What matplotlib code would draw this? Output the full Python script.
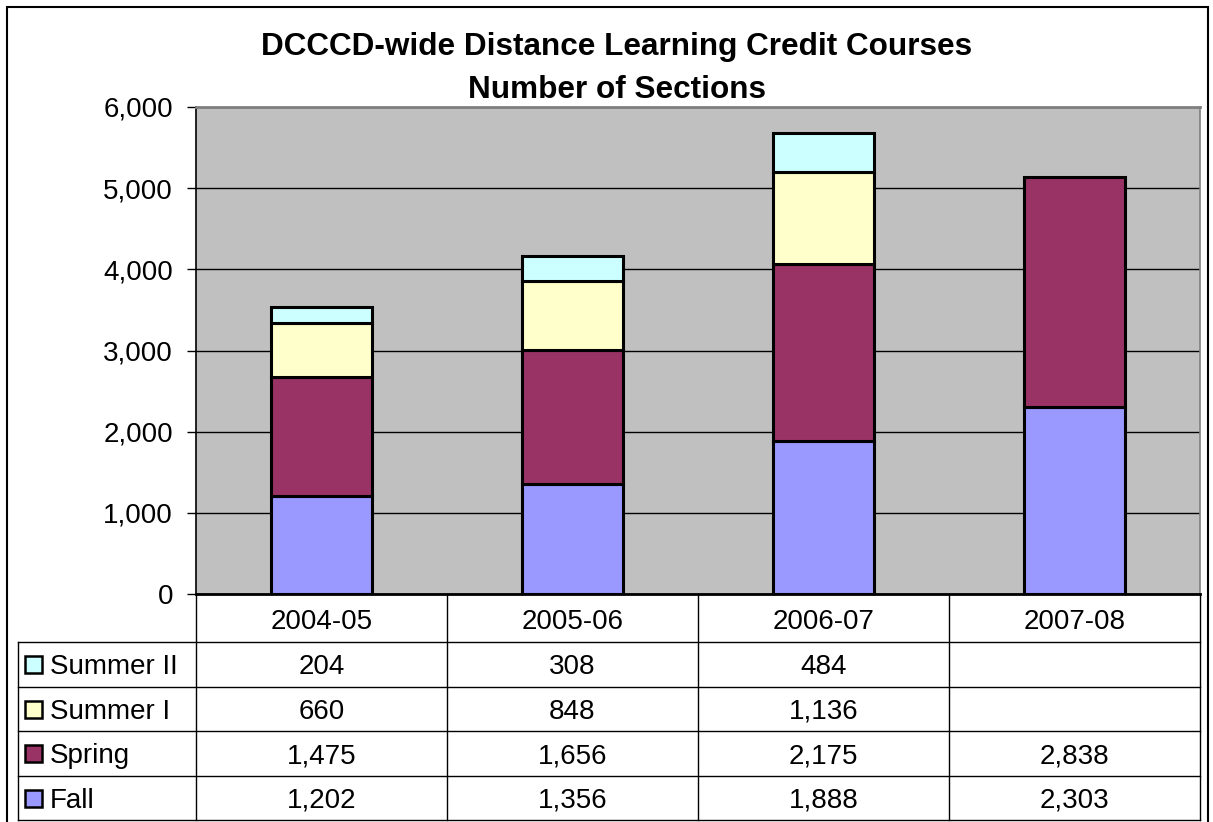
import numpy as np
import matplotlib
matplotlib.use("Agg")
import matplotlib.pyplot as plt
from matplotlib.patches import Rectangle
from matplotlib.lines import Line2D
from matplotlib.ticker import FuncFormatter

plt.rcParams['font.family'] = ['Liberation Sans', 'DejaVu Sans']

years = ['2004-05', '2005-06', '2006-07', '2007-08']
fall = [1202, 1356, 1888, 2303]
spring = [1475, 1656, 2175, 2838]
summer1 = [660, 848, 1136, 0]
summer2 = [204, 308, 484, 0]

series = [('Fall', fall, '#9999FF'),
          ('Spring', spring, '#993366'),
          ('Summer I', summer1, '#FFFFCC'),
          ('Summer II', summer2, '#CCFFFF')]

W, H = 1213, 822
FS = 20
fig = plt.figure(figsize=(W / 100, H / 100), dpi=100)

# plot area in pixels
px_left, px_right, px_top, px_bottom = 196, 1200, 107, 594
ax = fig.add_axes([px_left / W, 1 - px_bottom / H, (px_right - px_left) / W, (px_bottom - px_top) / H])
ax.set_facecolor('#C0C0C0')
x = np.arange(len(years))
bottom = np.zeros(len(years))
for name, vals, col in series:
    v = np.array(vals, dtype=float)
    mask = v > 0
    ax.bar(x[mask], v[mask], 0.4, bottom=bottom[mask], color=col, edgecolor='black', linewidth=2.2, zorder=3)
    bottom += v
ax.set_xlim(-0.5, len(years) - 0.5)
ax.set_ylim(0, 6000)
ax.set_yticks(np.arange(0, 6001, 1000))
ax.yaxis.set_major_formatter(FuncFormatter(lambda v, p: f'{int(v):,}'))
ax.yaxis.grid(True, color='black', linewidth=1.0, zorder=0)
ax.set_xticks([])
ax.tick_params(axis='y', labelsize=FS, length=6.5, width=1, pad=10)
for s in ax.spines.values():
    s.set_linewidth(1.2)
ax.spines['top'].set_color('#808080')
ax.spines['top'].set_linewidth(2)
ax.spines['right'].set_color('#808080')
ax.spines['bottom'].set_linewidth(2)

# table helpers, pixel coords -> figure fraction
def fx(p):
    return p / W

def fy(p):
    return 1 - p / H

def hline(x0, x1, y, lw=1):
    fig.add_artist(Line2D([fx(x0), fx(x1)], [fy(y), fy(y)], color='black', linewidth=lw))

def vline(x0, y0, y1, lw=1):
    fig.add_artist(Line2D([fx(x0), fx(x0)], [fy(y0), fy(y1)], color='black', linewidth=lw))

title_x = 617
fig.text(fx(title_x), fy(55), 'DCCCD-wide Distance Learning Credit Courses',
         ha='center', va='baseline', fontsize=22.7, fontweight='bold')
fig.text(fx(title_x), fy(98), 'Number of Sections',
         ha='center', va='baseline', fontsize=22.7, fontweight='bold')

tab_left = 18
head_bottom = 642
row_h = 44.5
col_w = (px_right - px_left) / len(years)
rows = list(reversed(series))
tab_bottom = head_bottom + row_h * len(rows)
txt_off = 3  # text ink sits a little low in the cells

# header
for i, yr in enumerate(years):
    fig.text(fx(px_left + col_w * (i + 0.5)), fy(619 + txt_off), yr, ha='center', va='center', fontsize=FS)
hline(tab_left, px_right, head_bottom)
for i in range(len(rows)):
    hline(tab_left, px_right, head_bottom + row_h * (i + 1))
vline(tab_left, head_bottom, tab_bottom)
vline(px_left, px_bottom, tab_bottom)
for i in range(1, len(years) + 1):
    vline(px_left + col_w * i, px_bottom, tab_bottom)

for r, (name, vals, col) in enumerate(rows):
    yc = head_bottom + row_h * (r + 0.5)
    fig.add_artist(Rectangle((fx(25), fy(yc + 9)), 17 / W, 17 / H, facecolor=col,
                             edgecolor='black', linewidth=1.8, transform=fig.transFigure))
    fig.text(fx(50), fy(yc + txt_off), name, ha='left', va='center', fontsize=FS)
    for i, v in enumerate(vals):
        if v:
            fig.text(fx(px_left + col_w * (i + 0.5)), fy(yc + txt_off), f'{v:,}',
                     ha='center', va='center', fontsize=FS)

# outer border
fig.add_artist(Rectangle((fx(7), fy(830)), 1201 / W, 823 / H, facecolor='none',
                         edgecolor='black', linewidth=1.5, transform=fig.transFigure))

fig.savefig('out.png', dpi=100)
